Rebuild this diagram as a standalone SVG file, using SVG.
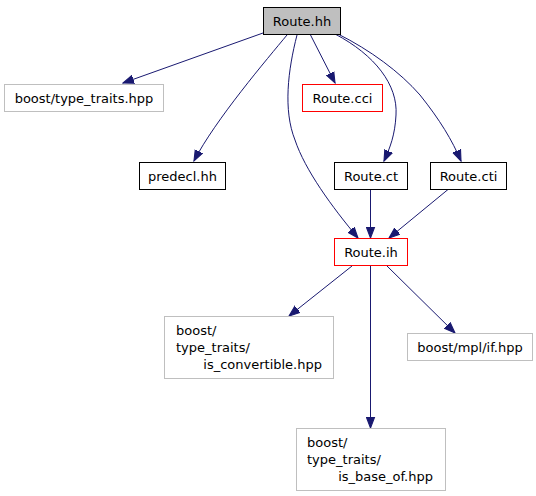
<svg xmlns="http://www.w3.org/2000/svg" width="536" height="496" viewBox="0 0 536 496">
<style>
text{font-family:"DejaVu Sans","Liberation Sans",sans-serif;font-size:13px;fill:#000}
.c{text-anchor:middle}
.e{text-anchor:end}
rect{stroke-width:1}
.main{fill:#bfbfbf;stroke:#000}
.blk{fill:#fff;stroke:#000}
.red{fill:#fff;stroke:#ff0000}
.gry{fill:#fff;stroke:#bfbfbf}
.edge{fill:none;stroke:#191970;stroke-width:1;marker-end:url(#ah)}
</style>
<defs>
<marker id="ah" markerUnits="userSpaceOnUse" markerWidth="12" markerHeight="10" viewBox="0 -4 11 8" refX="10" refY="0" orient="auto">
<path d="M0,-3.8 L10,0 L0,3.8 Z" fill="#191970" stroke="#191970" stroke-width="1"/>
</marker>
</defs>
<rect width="536" height="496" fill="#fff"/>
<g id="edges">
<path class="edge" d="M263,33 L123,83"/>
<path class="edge" d="M287,35 C268,58 215,120 194,161"/>
<path class="edge" d="M297,35 C288,70 283,110 295,140 C305,170 332,207 358,238"/>
<path class="edge" d="M310,34 L335,83"/>
<path class="edge" d="M335,34 C375,55 398,85 396,115 C395,135 390,148 384,161"/>
<path class="edge" d="M338,34 C370,50 400,72 420,95 C440,120 452,140 461,161"/>
<path class="edge" d="M370.5,189.5 L370.5,238"/>
<path class="edge" d="M448,189.5 L389,238"/>
<path class="edge" d="M352,266 L289,316"/>
<path class="edge" d="M370.5,266 L370.5,428"/>
<path class="edge" d="M387,266 L455,333"/>
</g>
<g id="route_hh"><rect class="main" x="263.5" y="7.5" width="77" height="27"/><text class="c" x="302" y="25.5">Route.hh</text></g>
<g id="type_traits"><rect class="gry" x="4.5" y="84.5" width="159" height="27"/><text class="c" x="84" y="102.5">boost/type_traits.hpp</text></g>
<g id="route_cci"><rect class="red" x="302.5" y="84.5" width="80" height="27"/><text class="c" x="342.5" y="102.5">Route.cci</text></g>
<g id="predecl"><rect class="blk" x="139.5" y="162.5" width="86" height="27"/><text class="c" x="182.5" y="180.5">predecl.hh</text></g>
<g id="route_ct"><rect class="blk" x="334.5" y="162.5" width="73" height="27"/><text class="c" x="371" y="180.5">Route.ct</text></g>
<g id="route_cti"><rect class="blk" x="430.5" y="162.5" width="76" height="27"/><text class="c" x="468.5" y="180.5">Route.cti</text></g>
<g id="route_ih"><rect class="red" x="334.5" y="238.5" width="73" height="27"/><text class="c" x="371" y="256.5">Route.ih</text></g>
<g id="is_convertible"><rect class="gry" x="164.5" y="316.5" width="169" height="62"/><text x="176" y="335">boost/</text><text x="176" y="352">type_traits/</text><text class="e" x="322" y="369">is_convertible.hpp</text></g>
<g id="mpl_if"><rect class="gry" x="407.5" y="333.5" width="125" height="27"/><text class="c" x="470" y="351.5">boost/mpl/if.hpp</text></g>
<g id="is_base_of"><rect class="gry" x="296.5" y="428.5" width="149" height="62"/><text x="307" y="447">boost/</text><text x="307" y="464">type_traits/</text><text class="e" x="433" y="481">is_base_of.hpp</text></g>
</svg>
